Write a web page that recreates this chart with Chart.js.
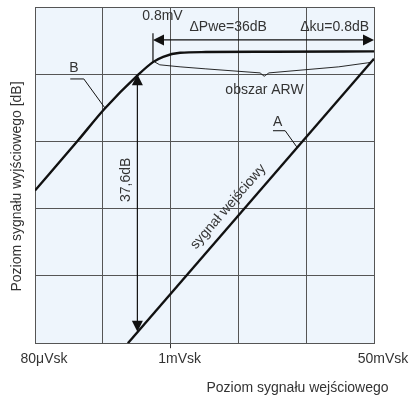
<!DOCTYPE html>
<html>
<head>
<meta charset="utf-8">
<script src="https://cdn.jsdelivr.net/npm/chart.js@4"></script>
<style>
  html, body { margin: 0; padding: 0; background: #fff; }
  #wrap { width: 412px; height: 395px; }
</style>
</head>
<body>
<div id="wrap"><canvas id="chart"></canvas></div>
<script>
// ================= DATA =================
// both axes are in grid divisions (5 x 5 grid)
const xTickLabels = ["80μVsk", "", "1mVsk", "", "", "50mVsk"];

// curve B (output signal)
const curveBx = [0, 0.63, 1.02, 1.52, 1.74, 1.89, 2.14, 2.52, 3.5, 5.0];
const curveBy = [2.27, 3.01, 3.48, 3.99, 4.18, 4.26, 4.32, 4.33, 4.335, 4.34];

// curve A (input signal)
const curveAx = [1.37, 5.0];
const curveAy = [0, 4.23];

// annotation anchors (grid divisions)
const dynArrowX = 1.51, dynArrowTop = 4.0, dynArrowBottom = 0.17;
const agcArrowY = 4.51, agcStartX = 1.74, agcEndX = 5.0, agcTickTop = 4.61, agcTickBottom = 4.18;
const braceX = [1.77, 1.84, 2.14, 2.52, 3.32, 3.38, 3.45, 4.48, 4.91, 4.96];
const braceY = [4.18, 4.14, 4.11, 4.08, 4.02, 3.97, 4.02, 4.11, 4.17, 4.18];

const FONT = "14px 'Liberation Sans', Arial, sans-serif";
const TXT = "#333";

// ================= HELPERS =================
function toPoints(xs, ys) {
  return xs.map((x, i) => ({ x: x, y: ys[i] }));
}

function arrowHead(c, tx, ty, dx, dy) {
  // tip at (tx,ty), pointing along (dx,dy)
  const len = 11, half = 5.5;
  const bx = tx - dx * len, by = ty - dy * len;
  c.beginPath();
  c.moveTo(tx, ty);
  c.lineTo(bx - dy * half, by + dx * half);
  c.lineTo(bx + dy * half, by - dx * half);
  c.closePath();
  c.fill();
}

function label(c, text, x, y, rot) {
  c.save();
  c.translate(x, y);
  if (rot) c.rotate(rot);
  c.fillText(text, 0, 0);
  c.restore();
}

// ================= PLUGIN =================
const decor = {
  id: "decor",
  beforeDraw(chart) {
    const a = chart.chartArea, c = chart.ctx;
    c.save();
    c.fillStyle = "#eef5fc";
    c.fillRect(a.left, a.top, a.right - a.left, a.bottom - a.top);
    c.restore();
  },
  afterDatasetsDraw(chart) {
    const c = chart.ctx;
    const X = v => chart.scales.x.getPixelForValue(v);
    const Y = v => chart.scales.y.getPixelForValue(v);
    c.save();
    c.strokeStyle = "#111";
    c.fillStyle = "#111";
    c.lineWidth = 1.2;

    // 37,6dB vertical arrow
    c.beginPath();
    c.moveTo(X(dynArrowX), Y(dynArrowTop) + 6);
    c.lineTo(X(dynArrowX), Y(dynArrowBottom) - 6);
    c.stroke();
    arrowHead(c, X(dynArrowX), Y(dynArrowTop), 0, -1);
    arrowHead(c, X(dynArrowX), Y(dynArrowBottom), 0, 1);

    // ΔPwe horizontal arrow + tick
    c.beginPath();
    c.moveTo(X(agcStartX) + 6, Y(agcArrowY));
    c.lineTo(X(agcEndX) - 6, Y(agcArrowY));
    c.moveTo(X(agcStartX), Y(agcTickTop));
    c.lineTo(X(agcStartX), Y(agcTickBottom));
    c.stroke();
    arrowHead(c, X(agcStartX), Y(agcArrowY), -1, 0);
    arrowHead(c, X(agcEndX), Y(agcArrowY), 1, 0);

    // brace "obszar ARW"
    c.lineWidth = 0.9;
    c.lineJoin = "round";
    c.beginPath();
    braceX.forEach((bx, i) => {
      if (i === 0) c.moveTo(X(bx), Y(braceY[i]));
      else c.lineTo(X(bx), Y(braceY[i]));
    });
    c.stroke();

    // A / B leaders
    c.lineWidth = 1;
    c.beginPath();
    c.moveTo(X(3.51), Y(3.16)); c.lineTo(X(3.69), Y(3.16)); c.lineTo(X(3.86), Y(2.92));
    c.moveTo(X(0.52), Y(3.93)); c.lineTo(X(0.72), Y(3.93)); c.lineTo(X(1.03), Y(3.50));
    c.stroke();

    // texts
    c.fillStyle = TXT;
    c.font = FONT;
    c.textAlign = "center";
    c.textBaseline = "middle";
    label(c, "0.8mV", X(1.88), Y(4.87));
    label(c, "ΔPwe=36dB", X(2.85), Y(4.70));
    label(c, "Δku=0.8dB", X(4.42), Y(4.70));
    label(c, "obszar ARW", X(3.385), Y(3.77));
    label(c, "A", X(3.58), Y(3.29));
    label(c, "B", X(0.575), Y(4.09));
    label(c, "37,6dB", X(1.34), Y(2.43), -Math.PI / 2);
    const ang = Math.atan2(Y(curveAy[1]) - Y(curveAy[0]), X(curveAx[1]) - X(curveAx[0]));
    label(c, "sygnał wejściowy", X(2.85), Y(2.03), ang);

    // axis titles
    label(c, "Poziom sygnału wejściowego", 297.5, 388);
    label(c, "Poziom sygnału wyjściowego [dB]", 17, 186.5, -Math.PI / 2);
    c.restore();
  }
};

// ================= CHART =================
new Chart(document.getElementById("chart"), {
  type: "line",
  data: {
    datasets: [
      {
        data: toPoints(curveBx, curveBy),
        borderColor: "#111",
        borderWidth: 2.4,
        cubicInterpolationMode: "monotone",
        pointRadius: 0,
      },
      {
        data: toPoints(curveAx, curveAy),
        borderColor: "#111",
        borderWidth: 2.4,
        pointRadius: 0,
      },
    ],
  },
  options: {
    animation: false,
    responsive: true,
    maintainAspectRatio: false,
    layout: { padding: { left: 35, top: 7, right: 38, bottom: 24 } },
    plugins: { legend: { display: false }, tooltip: { enabled: false } },
    scales: {
      x: {
        type: "linear",
        min: 0,
        max: 5,
        ticks: {
          stepSize: 1,
          autoSkip: false,
          maxRotation: 0,
          padding: 3,
          labelOffset: 9,
          color: TXT,
          font: { family: "'Liberation Sans', Arial, sans-serif", size: 14 },
          callback: (v) => xTickLabels[v] || "",
        },
        grid: {
          color: "#555",
          lineWidth: 1,
          tickLength: 5,
          tickColor: (ctx) => (ctx.tick && ctx.tick.value === 2 ? "#333" : "rgba(0,0,0,0)"),
        },
        border: { color: "#555" },
      },
      y: {
        type: "linear",
        min: 0,
        max: 5,
        ticks: { display: false, stepSize: 1 },
        grid: { color: "#555", lineWidth: 1, drawTicks: false },
        border: { color: "#555" },
      },
    },
  },
  plugins: [decor],
});
</script>
</body>
</html>
